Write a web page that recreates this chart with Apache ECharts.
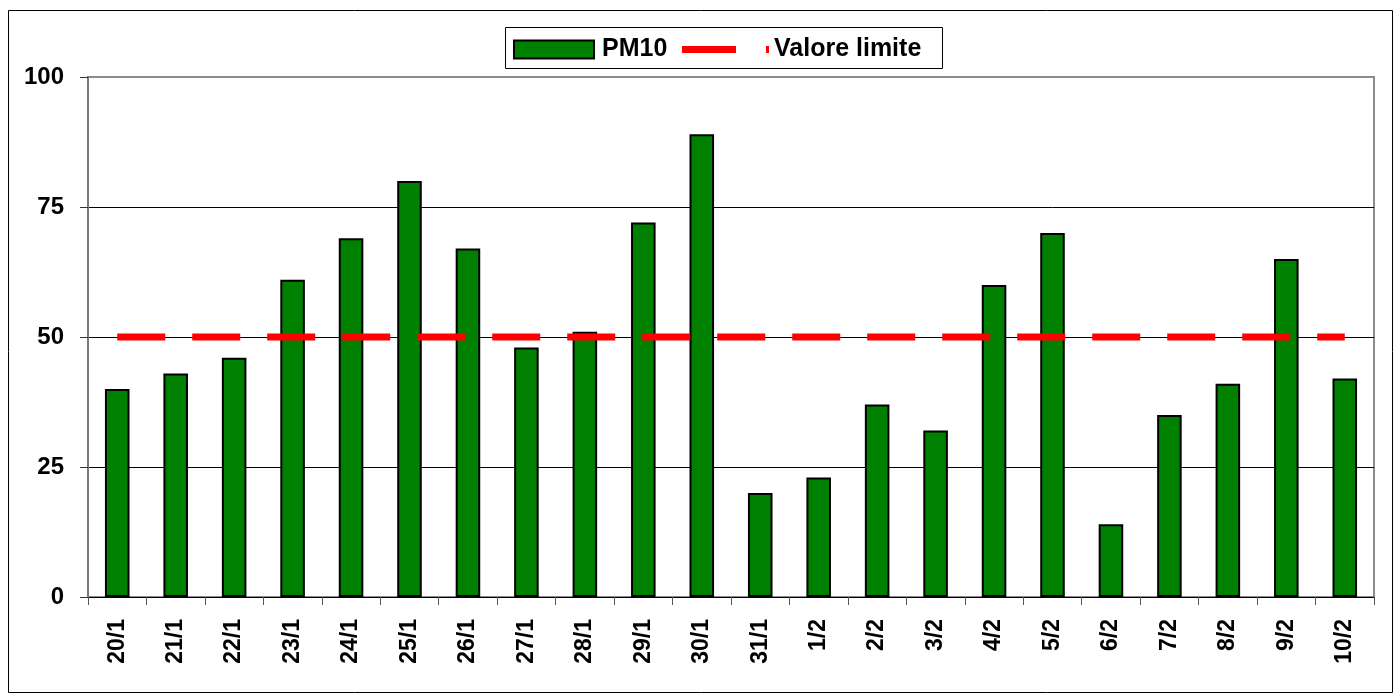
<!DOCTYPE html>
<html>
<head>
<meta charset="utf-8">
<script src="https://cdn.jsdelivr.net/npm/echarts@6/dist/echarts.min.js"></script>
<style>
  html, body { margin: 0; padding: 0; background: #fff; }
  #main { width: 1395px; height: 695px; }
</style>
</head>
<body>
<div id="main"></div>
<script>
// dati PM10 (giornalieri) e valore limite
var giorni = ['20/1', '21/1', '22/1', '23/1', '24/1', '25/1', '26/1', '27/1', '28/1', '29/1', '30/1',
  '31/1', '1/2', '2/2', '3/2', '4/2', '5/2', '6/2', '7/2', '8/2', '9/2', '10/2'];
var pm10 = [40, 43, 46, 61, 69, 80, 67, 48, 51, 72, 89, 20, 23, 37, 32, 60, 70, 14, 35, 41, 65, 42];
var limite = 50;
var valoreLimite = giorni.map(function () { return limite; });

var font = 'Liberation Sans, Arial, sans-serif';
var legendText = { fontFamily: font, fontSize: 25, fontWeight: 'bold', color: '#000' };
var myChart = echarts.init(document.getElementById('main'));

myChart.setOption({
  animation: false,
  graphic: [{
    type: 'rect',
    shape: { x: 8.5, y: 10.5, width: 1384, height: 682 },
    style: { fill: 'none', stroke: '#000', lineWidth: 1 },
    silent: true
  }, {
    // cornice della legenda
    type: 'rect',
    shape: { x: 505.5, y: 27.5, width: 437, height: 41 },
    style: { fill: '#fff', stroke: '#000', lineWidth: 1 },
    silent: true,
    z: -1
  }],
  legend: [{
    left: 513, top: 37,
    padding: 0,
    data: [{ name: 'PM10', icon: 'rect' }],
    itemWidth: 80, itemHeight: 18,
    itemStyle: { color: '#008000', borderColor: '#000', borderWidth: 2 },
    textStyle: Object.assign({ padding: [0, 0, 0, 3] }, legendText)
  }, {
    left: 682, top: 37,
    padding: 0,
    data: [{ name: 'Valore limite', icon: 'path://M0,0H54V7H0ZM84,0H87V7H84Z' }],
    itemWidth: 87, itemHeight: 7,
    itemStyle: { color: '#ff0000', borderWidth: 0 },
    textStyle: legendText
  }],
  grid: {
    left: 88, right: 21, top: 77, bottom: 98,
    show: true, borderColor: '#8c8c8c', borderWidth: 2
  },
  xAxis: {
    type: 'category',
    data: giorni,
    axisLine: { lineStyle: { color: '#000', width: 1 } },
    axisTick: { show: true, length: 8, lineStyle: { color: '#555' } },
    axisLabel: {
      rotate: 90, margin: 22, interval: 0,
      fontFamily: font, fontSize: 23, fontWeight: 'bold', color: '#000'
    }
  },
  yAxis: {
    type: 'value',
    min: 0, max: 100, interval: 25,
    axisLine: { show: true, lineStyle: { color: '#777', width: 2 } },
    axisTick: { show: true, length: 8, lineStyle: { color: '#333' } },
    splitLine: { lineStyle: { color: ['#000', '#000', '#000', '#000', '#8c8c8c'], width: 1 } },
    axisLabel: { margin: 24, fontFamily: font, fontSize: 24, fontWeight: 'bold', color: '#000' }
  },
  series: [{
    name: 'PM10',
    type: 'bar',
    data: pm10,
    barWidth: '42%',
    itemStyle: { color: '#008000', borderColor: '#000', borderWidth: 2 }
  }, {
    name: 'Valore limite',
    type: 'line',
    data: valoreLimite,
    symbol: 'none',
    lineStyle: { color: '#ff0000', width: 7, type: [48, 27], cap: 'butt' },
    itemStyle: { color: '#ff0000' },
    z: 5
  }]
});
</script>
</body>
</html>
